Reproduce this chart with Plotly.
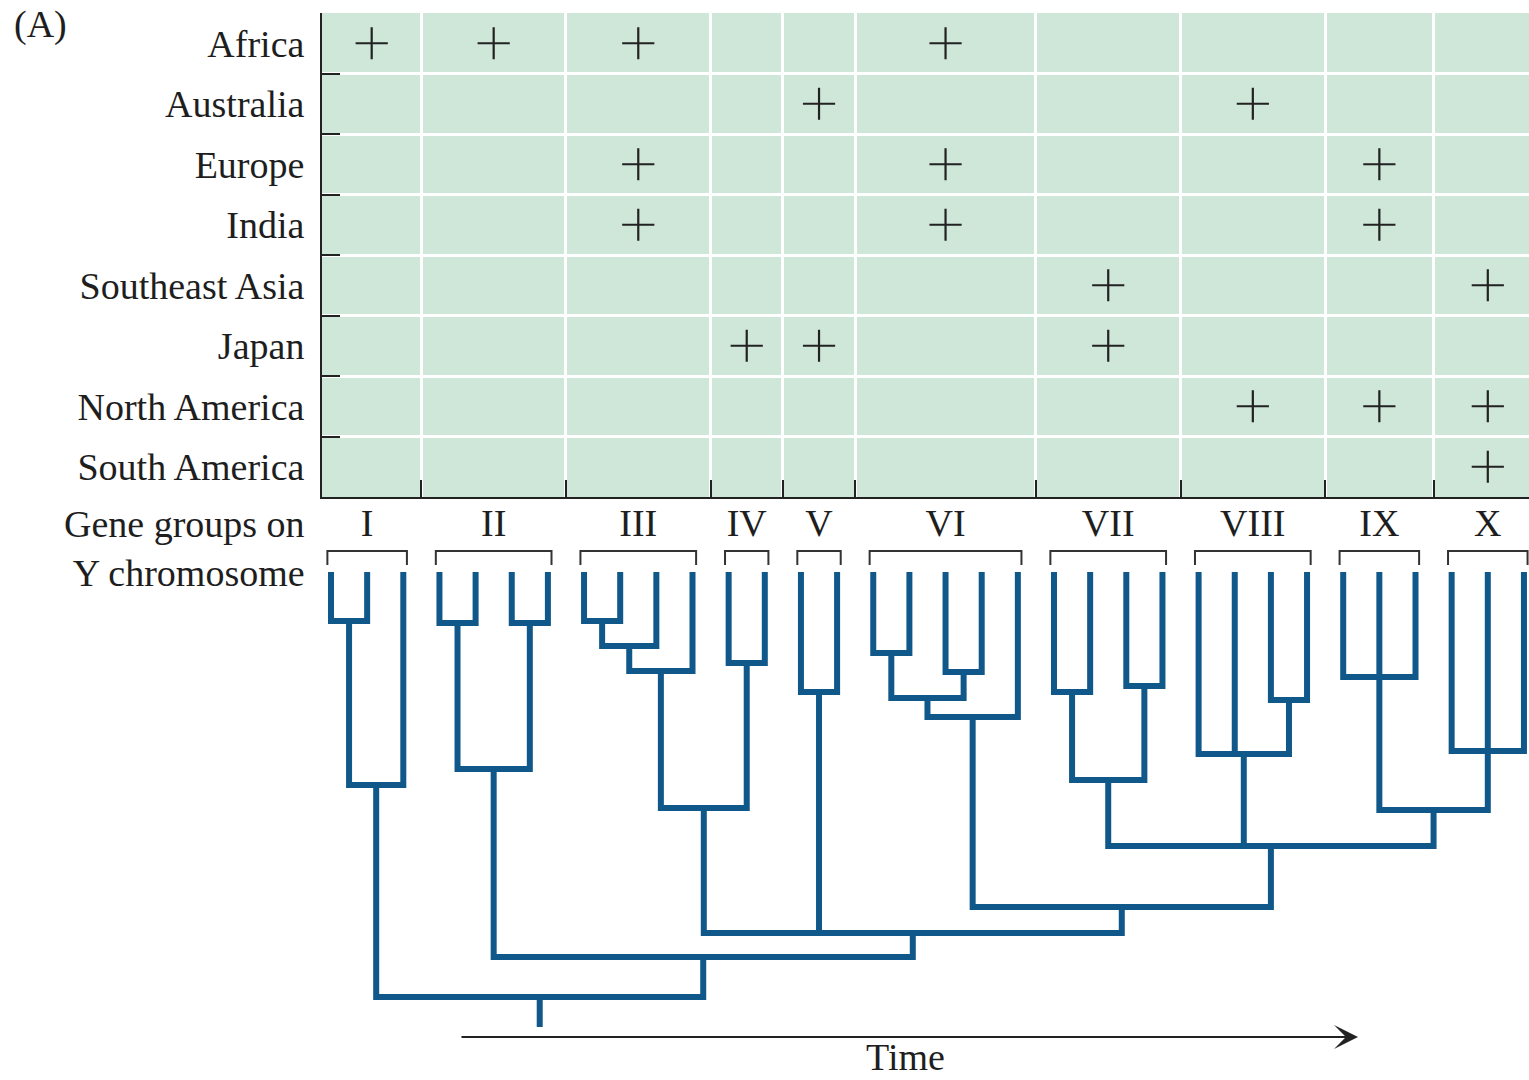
import plotly.graph_objects as go

# ---------------- data ----------------
REGIONS = ["Africa", "Australia", "Europe", "India", "Southeast Asia",
           "Japan", "North America", "South America"]
GROUPS = ["I", "II", "III", "IV", "V", "VI", "VII", "VIII", "IX", "X"]
LEAVES_PER_GROUP = [3, 4, 4, 2, 2, 5, 4, 4, 3, 3]
# presence (+) of each gene group in each region
PRESENCE = [
    [1, 1, 1, 0, 0, 1, 0, 0, 0, 0],  # Africa
    [0, 0, 0, 0, 1, 0, 0, 1, 0, 0],  # Australia
    [0, 0, 1, 0, 0, 1, 0, 0, 1, 0],  # Europe
    [0, 0, 1, 0, 0, 1, 0, 0, 1, 0],  # India
    [0, 0, 0, 0, 0, 0, 1, 0, 0, 1],  # Southeast Asia
    [0, 0, 0, 1, 1, 0, 1, 0, 0, 0],  # Japan
    [0, 0, 0, 0, 0, 0, 0, 1, 1, 1],  # North America
    [0, 0, 0, 0, 0, 0, 0, 0, 0, 1],  # South America
]
# tree: leaf = global leaf index, node = (depth of junction, [children])
T_I = (785, [(621, [0, 1]), 2])
T_II = (769, [(623, [3, 4]), (623, [5, 6])])
T_III = (671, [(646, [(621, [7, 8]), 9]), 10])
T_IV = (663, [11, 12])
T_V = (692, [13, 14])
T_VI = (717, [(698, [(653, [15, 16]), (672, [17, 18])]), 19])
T_VII = (780, [(692, [20, 21]), (686, [22, 23])])
T_VIII = (754, [24, 25, (700, [26, 27])])
T_IX = (677, [28, 29, 30])
T_X = (751, [31, 32, 33])
TREE = (997, [T_I,
              (957, [T_II,
                     (933, [(808, [T_III, T_IV]), T_V,
                            (907, [T_VI,
                                   (846, [T_VII, T_VIII,
                                          (810, [T_IX, T_X])])])])])])
ROOT_STEM_END = 1027
LEAF_TIP = 572

# ---------------- layout constants ----------------
W, H = 1529, 1080
PX0, STEP = 331.0, 36.15          # pixel of leaf 0, pixel per leaf
X2_RANGE = [(0 - PX0) / STEP, (W - PX0) / STEP]
TABLE_LEFT_PX, TABLE_TOP_PX, TABLE_BOTTOM_PX = 322, 13, 497
TABLE_LEFT = (TABLE_LEFT_PX - PX0) / STEP
FONT = "Liberation Serif"
FS = 38
TXT = "#1e1e1e"
GREEN = "#cfe7d8"
BLUE = "#11588a"

# group leaf ranges
starts = []
s = 0
for n in LEAVES_PER_GROUP:
    starts.append(s)
    s += n
ends = [a + n - 1 for a, n in zip(starts, LEAVES_PER_GROUP)]
bounds = [(ends[g] + starts[g + 1]) / 2 for g in range(len(GROUPS) - 1)]
col_edges = [TABLE_LEFT] + bounds + [ends[-1] + 0.5]
col_centers = [(col_edges[g] + col_edges[g + 1]) / 2 for g in range(len(GROUPS))]

fig = go.Figure()

# ---------------- table ----------------
px, py = [], []
for r, row in enumerate(PRESENCE):
    for g, v in enumerate(row):
        if v:
            px.append(col_centers[g])
            py.append(REGIONS[r])
fig.add_trace(go.Scatter(
    x=px, y=py, mode="markers", xaxis="x", yaxis="y",
    marker=dict(symbol="cross-thin", size=23, line=dict(width=2.2, color="#222")),
    hoverinfo="skip", showlegend=False))

fig.add_shape(type="rect", xref="x", yref="y", x0=TABLE_LEFT, x1=col_edges[-1] + 2,
              y0=-0.5, y1=len(REGIONS) - 0.5, fillcolor=GREEN, line_width=0,
              layer="below")

# ---------------- tree ----------------
lx, ly = [], []


def draw(node):
    if isinstance(node, int):
        return float(node), LEAF_TIP
    depth, children = node
    pos = [draw(c) for c in children]
    xs = [p[0] for p in pos]
    il, ir = xs.index(min(xs)), xs.index(max(xs))
    (xl, yl), (xr, yr) = pos[il], pos[ir]
    lx.extend([xl, xl, xr, xr, None])
    ly.extend([yl, depth, depth, yr, None])
    for k, (xm, ym) in enumerate(pos):
        if k not in (il, ir):
            lx.extend([xm, xm, None])
            ly.extend([ym, depth, None])
    return (xl + xr) / 2, depth


rx, rd = draw(TREE)
lx.extend([rx, rx, None])
ly.extend([rd, ROOT_STEM_END, None])
fig.add_trace(go.Scatter(x=lx, y=ly, mode="lines", xaxis="x2", yaxis="y2",
                         line=dict(color=BLUE, width=6), hoverinfo="skip",
                         showlegend=False))

# brackets
bx, by = [], []
for a, b in zip(starts, ends):
    bx.extend([a - 0.1, a - 0.1, b + 0.1, b + 0.1, None])
    by.extend([565, 551, 551, 565, None])
fig.add_trace(go.Scatter(x=bx, y=by, mode="lines", xaxis="x2", yaxis="y2",
                         line=dict(color="#333", width=2), hoverinfo="skip",
                         showlegend=False))

# group labels
fig.add_trace(go.Scatter(
    x=[(a + b) / 2 for a, b in zip(starts, ends)], y=[526] * len(GROUPS),
    text=GROUPS, mode="text", xaxis="x2", yaxis="y2",
    textfont=dict(family=FONT, size=FS, color=TXT), hoverinfo="skip",
    showlegend=False))

# ---------------- annotations ----------------
ann = [
    dict(text="(A)", x=12 / W, y=1 - 25 / H, xref="paper", yref="paper",
         xanchor="left", yanchor="middle", showarrow=False,
         font=dict(family=FONT, size=FS, color=TXT)),
    dict(text="Gene groups on<br>Y chromosome", x=307 / W, y=548, xref="paper",
         yref="y2", xanchor="right", yanchor="middle", align="right",
         showarrow=False, font=dict(family=FONT, size=FS, color=TXT)),
    dict(text="Time", x=(905 - PX0) / STEP, y=1057, xref="x2", yref="y2",
         xanchor="center", yanchor="middle", showarrow=False,
         font=dict(family=FONT, size=FS, color=TXT)),
    dict(text="", x=(1358 - PX0) / STEP, y=1037, ax=(460 - PX0) / STEP, ay=1037,
         xref="x2", yref="y2", axref="x2", ayref="y2", showarrow=True,
         arrowhead=3, arrowsize=2.0, arrowwidth=2.0, arrowcolor="#222"),
]

fig.update_layout(
    width=W, height=H, margin=dict(l=0, r=0, t=0, b=0),
    paper_bgcolor="white", plot_bgcolor="rgba(0,0,0,0)",
    annotations=ann,
    xaxis=dict(domain=[TABLE_LEFT_PX / W, 1], range=[TABLE_LEFT, X2_RANGE[1]],
               tickmode="array", tickvals=bounds, ticks="inside", ticklen=17,
               tickwidth=2, tickcolor="#222", showticklabels=False,
               showgrid=True, gridcolor="white", gridwidth=3, zeroline=False,
               showline=True, linecolor="#222", linewidth=2, anchor="y",
               fixedrange=True),
    yaxis=dict(domain=[1 - TABLE_BOTTOM_PX / H, 1 - TABLE_TOP_PX / H],
               type="category", categoryorder="array", categoryarray=REGIONS,
               range=[len(REGIONS) - 0.5, -0.5], tickson="boundaries",
               ticks="inside", ticklen=18, tickwidth=2, tickcolor="#222",
               showgrid=True, gridcolor="white", gridwidth=3, zeroline=False,
               showline=True, linecolor="#222", linewidth=2, anchor="x",
               tickfont=dict(family=FONT, size=FS, color=TXT),
               ticklabelstandoff=8, fixedrange=True),
    xaxis2=dict(domain=[0, 1], range=X2_RANGE, visible=False, anchor="y2",
                fixedrange=True),
    yaxis2=dict(domain=[0, 1], range=[H, 0], visible=False, anchor="x2",
                fixedrange=True),
)

fig.write_html("out.html", config={"displayModeBar": False},
               post_script="document.body.style.margin='0';"
                           "document.body.style.overflow='hidden';")
